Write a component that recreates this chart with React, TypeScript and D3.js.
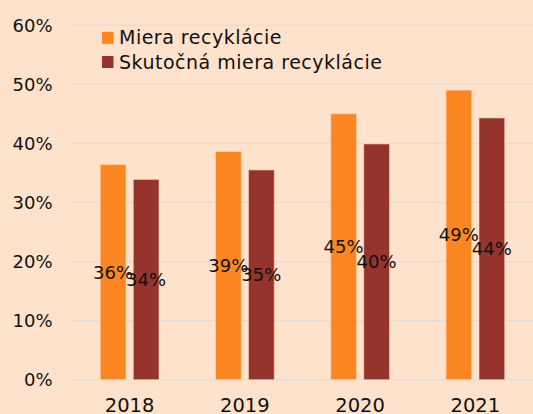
import React from "react";
import * as d3 from "d3";

const years = ["2018", "2019", "2020", "2021"];
const recyclingRate = [36.4, 38.6, 45.0, 49.0];
const actualRecyclingRate = [33.9, 35.5, 39.9, 44.3];
const labelsRate = ["36%", "39%", "45%", "49%"];
const labelsActual = ["34%", "35%", "40%", "44%"];
const yTicks = [0, 10, 20, 30, 40, 50, 60];
const seriesNames = ["Miera recyklácie", "Skutočná miera recyklácie"];
const seriesColors = ["#FC8722", "#94342C"];

const W = 533;
const H = 414;
const FONT = "'DejaVu Sans', sans-serif";

export default function App() {
  const x = d3.scaleBand<string>().domain(years).range([72, 533]).paddingInner(0).paddingOuter(0);
  const y = d3.scaleLinear().domain([0, 60]).range([379.7, 25.2]);
  const barW = 25.7;
  const gap = 7.3;
  const series = [recyclingRate, actualRecyclingRate];
  const labels = [labelsRate, labelsActual];

  return (
    <svg
      width={W}
      height={H}
      style={{ position: "absolute", left: 0, top: 0, background: "#FFE2CB" }}
      fontFamily={FONT}
    >
      <rect x={0} y={0} width={W} height={H} fill="#FFE2CB" />
      {yTicks.map((t) => (
        <g key={t}>
          <line x1={72} x2={533} y1={y(t)} y2={y(t)} stroke="#E3DCD6" strokeWidth={1.2} />
          <text x={52.5} y={y(t)} textAnchor="end" dominantBaseline="central" fontSize={18} fill="#111">
            {t}%
          </text>
        </g>
      ))}
      {years.map((yr, i) => {
        const c = (x(yr) as number) + x.bandwidth() / 2;
        return (
          <g key={yr}>
            {series.map((s, k) => {
              const x0 = k === 0 ? c - gap / 2 - barW : c + gap / 2;
              return (
                <rect
                  key={k}
                  x={x0}
                  y={y(s[i])}
                  width={barW}
                  height={y(0) - y(s[i])}
                  fill={seriesColors[k]}
                  stroke="#FFD3AE"
                  strokeOpacity={0.7}
                  strokeWidth={0.8}
                />
              );
            })}
            <text x={c} y={412} textAnchor="middle" fontSize={19.5} fill="#111">
              {yr}
            </text>
          </g>
        );
      })}
      {years.map((yr, i) => {
        const c = (x(yr) as number) + x.bandwidth() / 2;
        return (
          <g key={"l" + yr}>
            {series.map((s, k) => {
              const xc = k === 0 ? c - gap / 2 - barW / 2 : c + gap / 2 + barW / 2;
              const ym = (y(0) + y(s[i])) / 2;
              return (
                <text
                  key={k}
                  x={xc}
                  y={ym}
                  textAnchor="middle"
                  dominantBaseline="central"
                  fontSize={18}
                  fill="#111"
                >
                  {labels[k][i]}
                </text>
              );
            })}
          </g>
        );
      })}
      {seriesNames.map((n, k) => (
        <g key={n}>
          <rect x={102} y={31.8 + k * 24.2} width={11.5} height={12} fill={seriesColors[k]} />
          <text x={119} y={44.3 + k * 24.2} fontSize={19} letterSpacing={0.5} fill="#111">
            {n}
          </text>
        </g>
      ))}
    </svg>
  );
}
